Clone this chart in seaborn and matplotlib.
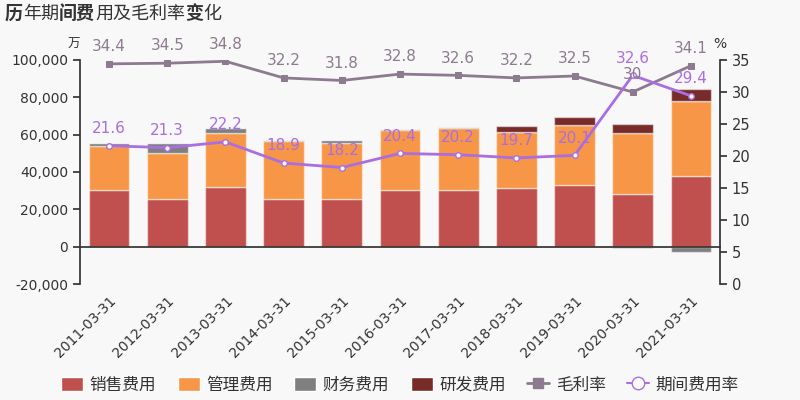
import matplotlib
matplotlib.use("Agg")
import matplotlib.pyplot as plt
import seaborn as sns
import numpy as np
import pandas as pd
from matplotlib.patches import Patch
from matplotlib.lines import Line2D
from matplotlib.ticker import FuncFormatter

# 数据
dates = ['2011-03-31', '2012-03-31', '2013-03-31', '2014-03-31', '2015-03-31', '2016-03-31',
         '2017-03-31', '2018-03-31', '2019-03-31', '2020-03-31', '2021-03-31']
sales = [30100, 25800, 31700, 25800, 25700, 30100, 30100, 31400, 32800, 28000, 38000]
mgmt = [23900, 24600, 29300, 30900, 29900, 32500, 33700, 29900, 32400, 32800, 40100]
finance = [1800, 5000, 2600, 300, 1800, 700, 300, 0, 0, -500, -2700]
rd = [0, 0, 0, 0, 0, 0, 0, 3400, 4300, 5000, 6200]
gross = [34.4, 34.5, 34.8, 32.2, 31.8, 32.8, 32.6, 32.2, 32.5, 30, 34.1]
period = [21.6, 21.3, 22.2, 18.9, 18.2, 20.4, 20.2, 19.7, 20.1, 32.6, 29.4]

c_sales, c_mgmt, c_fin, c_rd = '#c0504d', '#f79646', '#7f7f7f', '#772c2a'
c_gross, c_period = '#8c7b8e', '#a96ee0'
bg = '#f8f8f8'

sns.set_theme(style='white')
plt.rcParams['font.family'] = ['DejaVu Sans', 'Noto Sans CJK SC']
plt.rcParams['axes.unicode_minus'] = False

fig = plt.figure(figsize=(8, 4), dpi=100, facecolor=bg)
ax = fig.add_axes([0.1, 0.29, 0.8, 0.56])
ax.set_facecolor(bg)

x = np.arange(len(dates))
w = 0.7
ec = (1, 1, 1, 0.5)
s = np.array(sales, float)
m = np.array(mgmt, float)
f = np.array(finance, float)
r = np.array(rd, float)
fpos = np.where(f > 0, f, 0)
fneg = np.where(f < 0, f, 0)
ax.bar(x, s, w, color=c_sales, edgecolor=ec, linewidth=1)
ax.bar(x, m, w, bottom=s, color=c_mgmt, edgecolor=ec, linewidth=1)
ax.bar(x, fpos, w, bottom=s + m, color=c_fin, edgecolor=ec, linewidth=1)
ax.bar(x, fneg, w, color=c_fin, edgecolor=ec, linewidth=1)
ax.bar(x, r, w, bottom=s + m + fpos, color=c_rd, edgecolor=ec, linewidth=1)

ax.set_ylim(-20000, 100000)
ax.set_xlim(-0.5, len(dates) - 0.5)
ax.set_yticks(range(-20000, 100001, 20000))
ax.yaxis.set_major_formatter(FuncFormatter(lambda v, p: f'{int(v):,}'))
for sp in ['top', 'right']:
    ax.spines[sp].set_visible(False)
ax.spines['left'].set_color('#333333')
ax.spines['bottom'].set_position(('data', 0))
ax.spines['bottom'].set_color('#333333')
ax.set_xticks(x)
ax.set_xticklabels(dates, rotation=45, ha='right', rotation_mode='anchor', fontsize=10, color='#333333')
ax.set_xticks(np.arange(len(dates) + 1) - 0.5, minor=True)
ax.tick_params(axis='x', which='major', length=0, pad=34)
ax.tick_params(axis='x', which='minor', length=5, color='#333333', direction='out')
ax.tick_params(axis='y', length=5, color='#333333', labelsize=10, labelcolor='#333333', left=True)
ax.text(0, 1.07, '万', transform=ax.transAxes, ha='right', va='center', fontsize=9, color='#333333')

ax2 = ax.twinx()
ax2.set_ylim(0, 35)
ax2.set_yticks(range(0, 36, 5))
for sp in ['top', 'left', 'bottom']:
    ax2.spines[sp].set_visible(False)
ax2.spines['right'].set_color('#333333')
ax2.tick_params(axis='y', length=5, color='#333333', labelsize=10.5, labelcolor='#333333', right=True)
ax2.text(1.0, 1.07, '%', transform=ax2.transAxes, ha='center', va='center', fontsize=10, color='#333333')

df = pd.DataFrame({'x': x, 'gross': gross, 'period': period})
sns.lineplot(data=df, x='x', y='gross', ax=ax2, color=c_gross, lw=2, marker='s', markersize=4,
             markeredgecolor=c_gross)
sns.lineplot(data=df, x='x', y='period', ax=ax2, color=c_period, lw=2, marker='o', markersize=4,
             markerfacecolor='white', markeredgecolor=c_period, markeredgewidth=1)
ax2.set_xlabel('')
ax2.set_ylabel('')
ax.set_ylabel('')
ax2.set_xlim(-0.5, len(dates) - 0.5)
for i in range(len(dates)):
    ax2.annotate(f'{gross[i]:g}', (x[i], gross[i]), xytext=(0, 7), textcoords='offset points',
                 ha='center', va='bottom', fontsize=11, color=c_gross)
    ax2.annotate(f'{period[i]:g}', (x[i], period[i]), xytext=(0, 7), textcoords='offset points',
                 ha='center', va='bottom', fontsize=11, color=c_period)

# 标题 (部分加粗)
parts = [('历', 'bold'), ('年期', 'normal'), ('间费', 'bold'), ('用及毛利率', 'normal'), ('变', 'bold'), ('化', 'normal')]
fig.canvas.draw()
rend = fig.canvas.get_renderer()
xp = 5
for txt, wt in parts:
    t = fig.text(xp / 800, 1 - 14 / 400, txt, fontsize=13, fontweight=wt, color='#333333', va='center', ha='left')
    bb = t.get_window_extent(rend)
    xp += bb.width

handles = [Patch(facecolor=c_sales, label='销售费用'),
           Patch(facecolor=c_mgmt, label='管理费用'),
           Patch(facecolor=c_fin, label='财务费用'),
           Patch(facecolor=c_rd, label='研发费用'),
           Line2D([0], [0], color=c_gross, lw=2, marker='s', markersize=7, label='毛利率'),
           Line2D([0], [0], color=c_period, lw=1.5, marker='o', markersize=9, markerfacecolor='white',
                  label='期间费用率')]
fig.legend(handles=handles, loc='center', bbox_to_anchor=(0.5, 0.038), ncol=6, frameon=False,
           fontsize=12, handlelength=1.3, handleheight=0.9, handletextpad=0.4, columnspacing=1.3,
           labelcolor='#333333')

fig.savefig('out.png', dpi=100, facecolor=bg)
